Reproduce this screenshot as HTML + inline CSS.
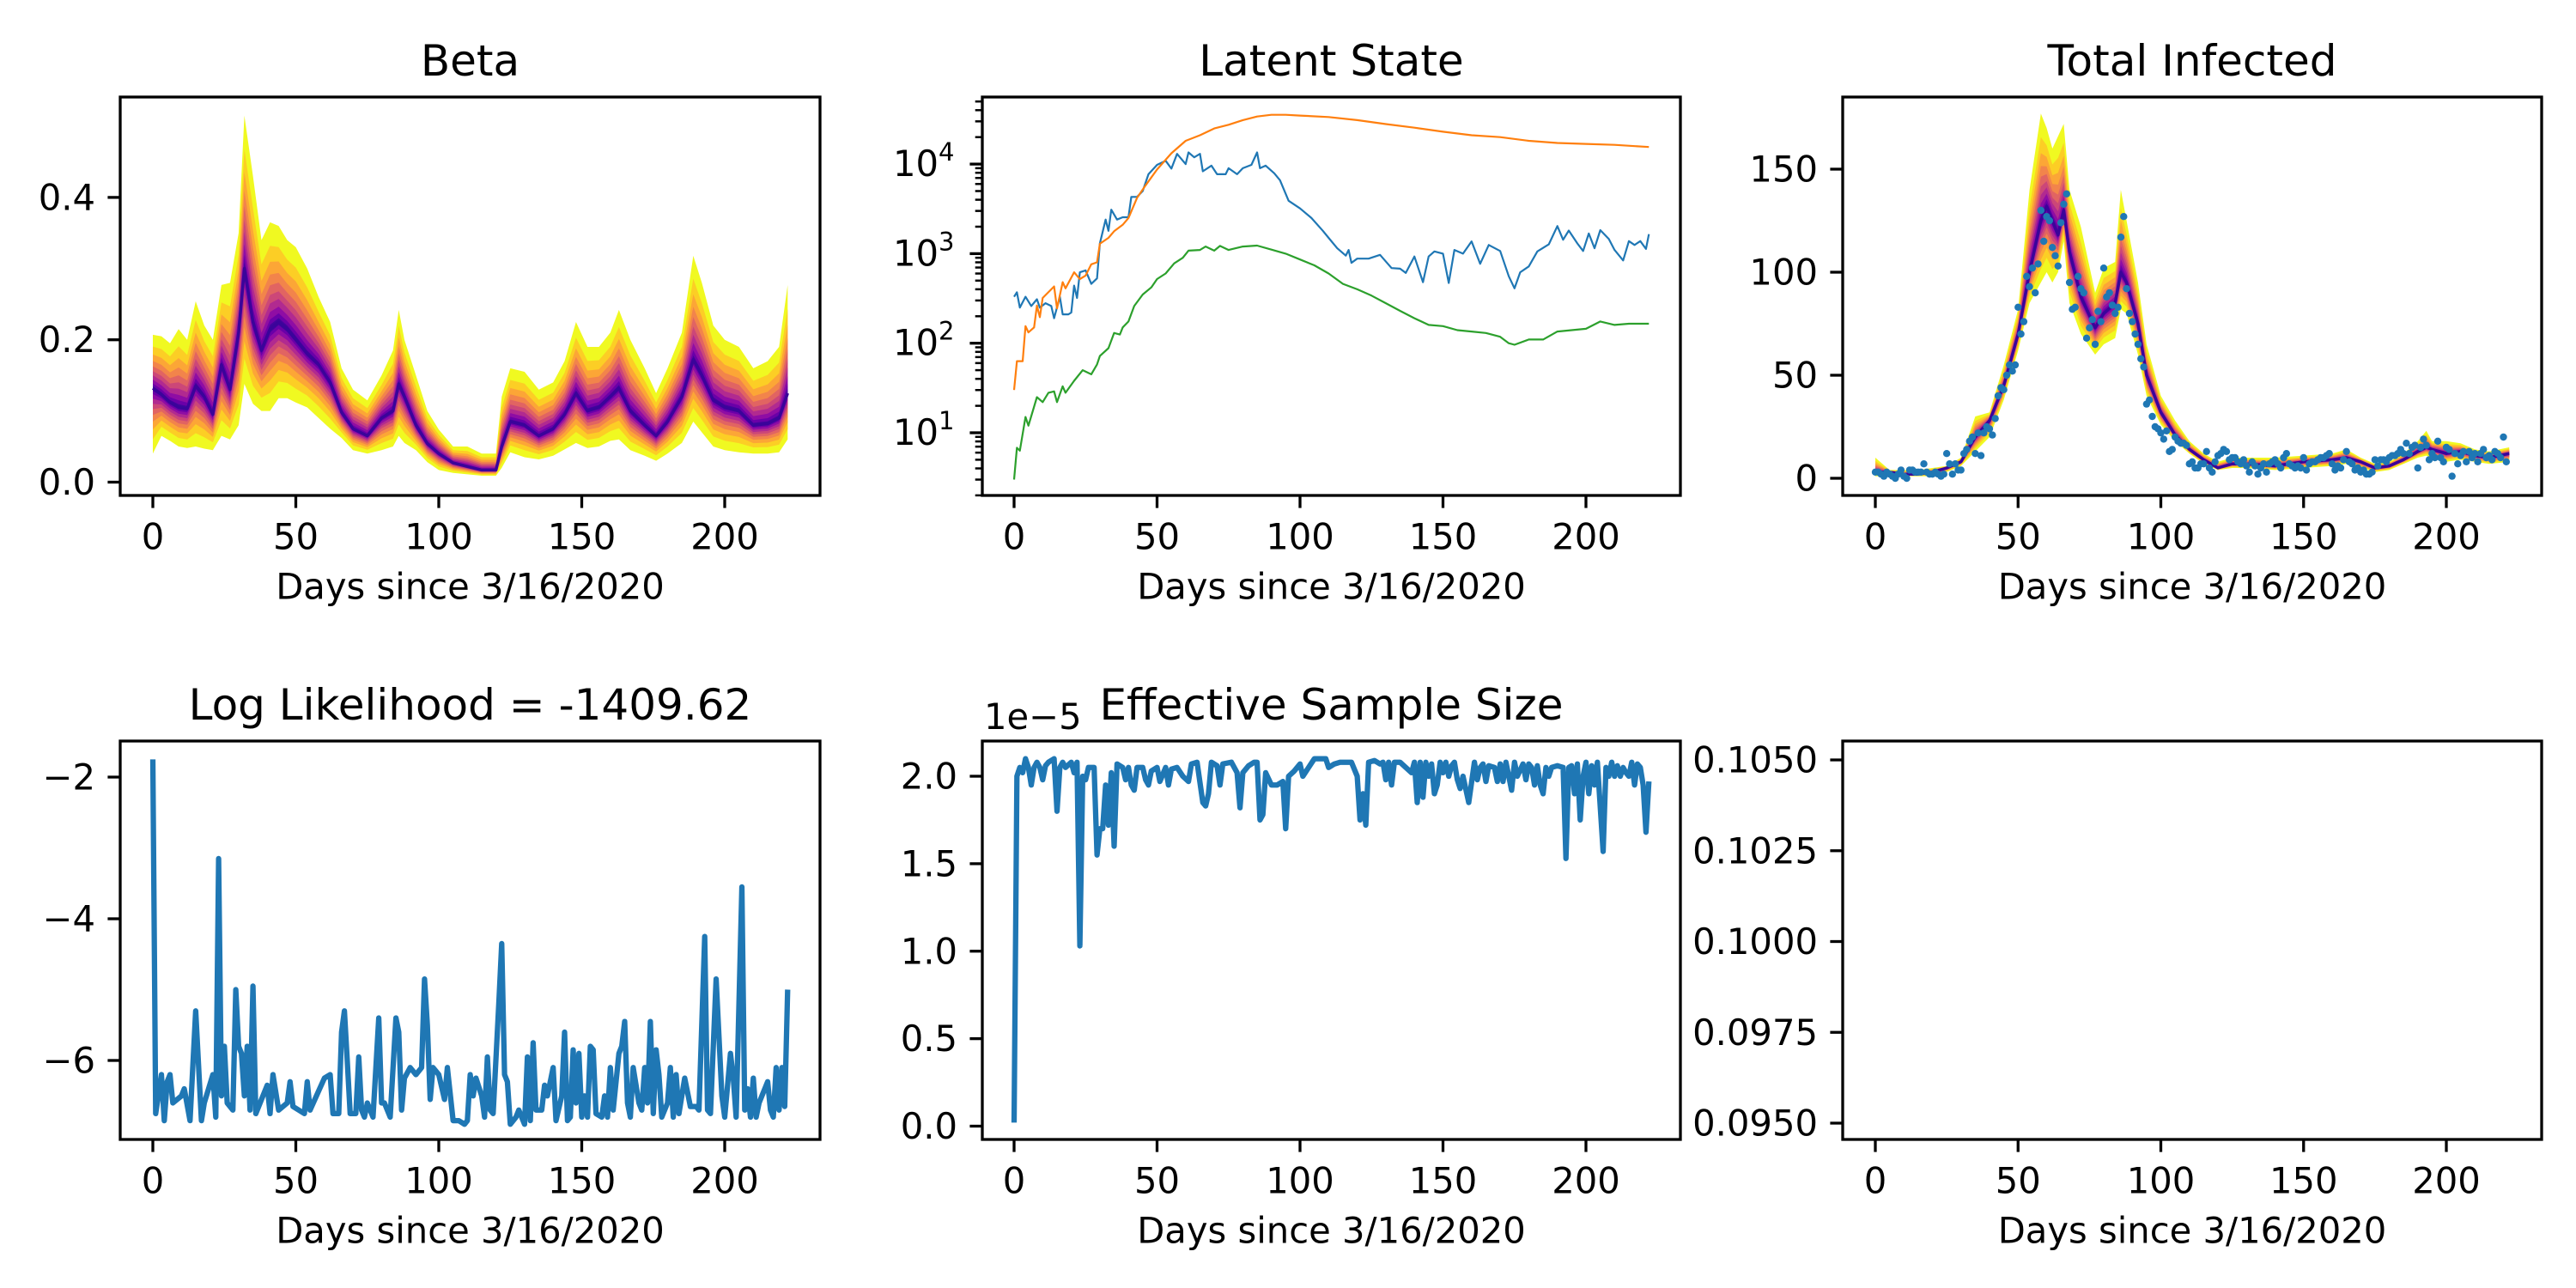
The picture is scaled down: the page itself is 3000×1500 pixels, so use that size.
<!DOCTYPE html>
<html><head><meta charset="utf-8"><style>
html,body{margin:0;padding:0;background:#fff}
svg{display:block}
text{font-family:"DejaVu Sans","Liberation Sans",sans-serif;fill:#000}
</style></head><body>
<svg id="fig" xmlns="http://www.w3.org/2000/svg" width="3000" height="1500" viewBox="0 0 3000 1500"></svg>
<script>
// ---------- DATA ----------
const betaDays=[0,3,6,9,12,15,18,21,24,27,30,32,35,38,41,44,47,50,54,58,62,66,70,75,80,84,86,88,92,96,100,105,110,115,120,122,125,130,135,140,144,148,152,156,160,163,167,172,176,180,185,189,192,196,200,205,210,215,219,222];
const betaMedian=[.132,.123,.112,.105,.103,.135,.12,.095,.165,.13,.21,.30,.225,.185,.215,.225,.215,.2,.18,.165,.14,.098,.075,.065,.09,.1,.138,.12,.08,.054,.04,.027,.022,.017,.017,.05,.085,.08,.065,.075,.095,.125,.1,.105,.12,.132,.1,.08,.065,.085,.12,.172,.15,.115,.105,.1,.08,.082,.09,.125];
const betaUpper=[.207,.205,.195,.215,.2,.254,.22,.2,.277,.28,.35,.515,.43,.34,.365,.36,.34,.33,.3,.26,.225,.16,.13,.115,.15,.185,.242,.2,.15,.1,.074,.05,.05,.04,.04,.12,.16,.155,.13,.14,.17,.225,.19,.19,.21,.242,.2,.16,.125,.16,.21,.318,.28,.22,.2,.19,.16,.17,.19,.277];
const betaLower=[.04,.065,.058,.05,.048,.05,.047,.045,.065,.06,.08,.138,.11,.1,.1,.118,.118,.112,.105,.09,.075,.062,.045,.04,.045,.05,.065,.055,.045,.028,.017,.013,.011,.009,.009,.02,.042,.035,.032,.037,.046,.055,.048,.05,.058,.06,.045,.037,.03,.04,.055,.085,.07,.05,.045,.042,.04,.04,.042,.06];
const betaTicks=[0,0.2,0.4];
const dayTicks=[0,50,100,150,200];

const latDays1=[0,1,3,4,5,7,8,9,10,14,15,17,18,21,23,25,27,29,30,33,35,38,40,43,46,50,55,60,65,70,75,80,85,90,95,100,110,120,130,140,150,160,170,180,190,200,210,222];
const latOrange=[30,63,63,155,132,150,263,195,320,430,245,480,410,620,520,570,760,800,1290,1500,1780,2100,2500,4200,5800,8700,13200,18200,21000,25000,27500,31000,34000,35500,35500,34800,33500,31000,28000,25500,23000,21000,20000,18200,17200,16800,16400,15500];
const latDays2=[0,1,2,4,6,8,9,11,13,14,16,17,19,20,21,22,23,25,27,29,30,32,33,34,36,38,40,41,43,45,47,50,53,55,57,60,61,63,65,66,69,71,74,75,78,80,83,85,86,88,91,93,96,100,104,108,110,113,116,117,118,120,124,128,132,135,137,140,143,145,147,150,152,154,157,160,163,166,170,173,175,177,180,183,187,190,192,194,197,199,201,203,205,208,210,213,215,217,219,221,222];
const latBlue=[330,370,250,330,260,310,250,280,260,190,330,210,210,220,440,320,620,650,460,530,1300,2400,1800,3100,2400,2550,2550,4300,4300,5000,7700,9800,10900,8900,13000,10000,13500,11900,13000,8300,9600,7700,7700,9000,7700,9000,9800,13500,9000,9600,7900,6600,3900,3200,2500,1800,1500,1150,950,1100,790,880,880,970,690,680,610,930,480,930,1060,1000,470,1100,1000,1370,770,1250,1070,560,410,620,720,1060,1270,2030,1430,1810,1300,1070,1680,1150,1830,1460,1100,840,1380,1250,1380,1130,1650];
const latDays3=[0,1,2,4,5,8,10,12,14,15,17,18,21,24,27,29,30,33,35,37,38,40,42,45,48,50,53,56,59,61,65,67,70,72,75,80,85,90,95,100,105,110,115,120,125,130,135,140,145,150,155,160,165,170,173,175,180,185,190,195,200,205,210,215,222];
const latGreen=[3,6.8,6.3,15,12,25,22,28,29,22,33,28,38,50,45,58,72,88,130,125,150,175,260,350,420,520,600,780,900,1080,1100,1200,1080,1220,1100,1200,1230,1110,1000,860,740,600,460,400,340,280,230,190,160,155,140,135,130,118,100,96,110,110,135,140,145,175,160,165,165];
const latTicks=[10,100,1000,10000];
const latTickLbl=["1","2","3","4"];

const infDays=[0,5,10,15,20,25,30,35,40,45,50,54,58,60,62,64,66,68,72,77,80,84,86,88,92,95,100,105,110,115,120,125,130,140,150,160,165,170,175,180,185,190,193,195,200,205,210,215,222];
const infMedian=[3,3,2,2,3,5,8,20,28,45,70,100,125,132,125,118,130,110,88,73,80,85,100,95,75,50,32,21,14,9,5,7,7,6,8,9,10,8,5,6,9,13,15,14,12,13,11,10,12];
const infUpper=[10,4,4,4,5,6,10,30,32,55,82,140,177,170,160,166,172,140,122,90,102,105,140,125,95,65,40,28,18,12,8,10,10,10,11,12,14,10,7,8,12,18,23,18,18,17,14,13,15];
const infLower=[1,1,1,1,1,3,6,13,20,38,62,85,95,100,95,100,115,85,70,60,65,68,82,80,60,40,26,18,12,7,4,5,5,4,5,6,7,5,3,4,7,10,11,10,8,9,8,7,8];
const infObserved=[3,3,2,1,3,2,1,0,2,4,1,0,4,4,3,3,3,7,3,2,2,3,2,1,2,12,7,2,7,4,4,12,14,18,20,12,22,11,22,25,24,21,29,40,44,43,50,55,52,55,83,70,76,98,93,102,90,104,130,115,127,125,112,108,103,124,133,138,95,82,83,98,92,90,68,73,77,65,81,76,102,88,90,84,80,83,117,127,92,80,76,70,65,58,54,36,38,30,25,24,22,19,23,13,14,20,18,17,17,16,7,8,5,5,7,7,13,5,3,8,11,12,14,13,9,10,10,8,7,9,6,3,8,6,2,5,7,3,7,8,9,7,5,10,12,7,6,5,6,5,10,4,7,8,8,9,10,10,11,12,7,4,6,5,9,13,8,7,4,5,3,4,2,2,3,9,6,9,9,8,10,11,11,12,14,12,17,12,15,16,5,15,19,16,9,12,10,18,10,8,15,14,1,12,7,11,13,8,13,10,12,8,12,14,10,11,9,13,12,10,20,8];
const infTicks=[0,50,100,150];

const llDays=[0,1,3,4,5,6,7,10,11,13,15,17,18,21,22,23,24,25,26,28,29,30,31,32,33,34,35,36,40,41,42,44,47,48,49,53,54,55,60,62,63,65,66,67,68,69,71,72,73,74,75,77,79,80,81,83,85,86,87,88,90,92,94,95,96,97,98,100,102,103,105,107,109,110,111,112,113,115,116,117,118,119,121,122,123,124,125,127,128,130,131,132,133,134,136,137,138,140,141,143,144,145,146,147,148,149,150,151,152,153,154,155,157,158,159,160,161,163,164,165,166,167,168,170,171,172,173,174,175,176,177,178,180,181,182,183,184,186,188,190,191,193,194,195,197,199,200,202,203,204,206,207,208,209,210,211,212,213,215,216,217,218,219,220,221,222];
const llVals=[-1.75,-6.75,-6.2,-6.85,-6.3,-6.2,-6.6,-6.5,-6.4,-6.85,-5.3,-6.85,-6.6,-6.2,-6.8,-3.15,-6.5,-5.8,-6.6,-6.7,-5.0,-5.8,-5.9,-6.5,-5.8,-6.7,-4.95,-6.75,-6.35,-6.75,-6.2,-6.7,-6.6,-6.3,-6.65,-6.75,-6.3,-6.7,-6.25,-6.2,-6.75,-6.75,-5.6,-5.3,-6.0,-6.75,-6.75,-5.95,-6.7,-6.8,-6.6,-6.8,-5.4,-6.6,-6.6,-6.8,-5.4,-5.6,-6.7,-6.25,-6.1,-6.2,-6.1,-4.85,-5.5,-6.55,-6.1,-6.2,-6.55,-6.1,-6.85,-6.85,-6.9,-6.85,-6.2,-6.5,-6.25,-6.5,-6.8,-5.95,-6.7,-6.75,-5.2,-4.35,-6.2,-6.3,-6.9,-6.8,-6.7,-6.9,-5.95,-6.85,-5.75,-6.7,-6.7,-6.35,-6.5,-6.1,-6.85,-6.5,-5.6,-6.85,-6.8,-5.85,-6.6,-5.9,-6.8,-6.5,-6.8,-5.8,-5.85,-6.75,-6.8,-6.5,-6.8,-6.1,-6.7,-5.9,-5.8,-5.45,-6.6,-6.8,-6.1,-6.6,-6.7,-6.1,-6.6,-5.45,-6.75,-5.85,-6.2,-6.8,-6.6,-6.1,-6.8,-6.2,-6.75,-6.25,-6.65,-6.65,-6.7,-4.25,-6.7,-6.75,-4.85,-6.5,-6.8,-5.9,-6.25,-6.8,-3.55,-6.7,-6.4,-6.8,-6.25,-6.8,-6.6,-6.5,-6.3,-6.7,-6.8,-6.1,-6.7,-6.1,-6.65,-5.0,-6.15];
const llTicks=[-6,-4,-2];

const essDays=[0,1,2,3,4,5,6,7,8,9,10,11,12,14,15,16,17,18,20,21,22,23,24,25,26,28,29,30,31,32,33,34,35,36,38,39,40,41,42,43,45,46,47,48,50,51,53,54,55,57,59,61,62,64,66,67,68,69,71,72,73,76,78,79,80,82,84,85,86,87,88,90,92,94,95,96,98,100,101,103,105,107,109,110,112,114,116,118,120,121,122,123,124,126,128,129,130,131,132,133,135,137,139,140,141,142,143,144,145,146,147,148,149,150,151,152,153,154,155,156,157,159,161,162,163,164,165,166,168,169,170,171,172,174,175,176,178,179,180,181,182,183,184,185,186,187,188,190,192,193,194,195,196,197,198,199,200,201,202,203,204,206,207,208,209,210,211,212,213,214,215,216,217,218,219,220,221,222];
const essVals=[0.02,2.0,2.05,2.02,2.1,2.05,1.95,2.05,2.08,2.05,1.98,2.06,2.08,2.1,1.8,2.05,2.08,2.05,2.08,2.02,2.08,1.03,2.0,1.98,2.05,2.05,1.55,1.7,1.7,1.95,1.72,2.02,1.6,2.07,2.05,1.98,2.05,1.95,1.92,2.05,2.05,1.98,1.95,2.03,2.05,1.97,2.05,1.95,2.04,2.05,2.0,1.97,2.07,2.08,1.85,1.83,1.9,2.08,2.06,1.95,2.07,2.08,2.02,1.82,2.02,2.06,2.08,2.08,1.75,1.78,2.02,1.95,1.95,1.97,1.7,2.0,2.03,2.07,2.0,2.05,2.1,2.1,2.1,2.05,2.07,2.08,2.08,2.08,2.0,1.75,1.9,1.72,2.08,2.09,2.07,2.08,1.98,2.08,1.95,2.08,2.08,2.05,2.02,2.08,1.85,2.08,1.88,2.08,2.0,2.07,1.9,1.95,2.08,2.02,2.08,2.0,2.06,2.08,1.98,1.93,2.0,1.85,2.08,1.98,2.05,2.07,1.97,2.06,2.05,1.97,2.07,1.97,2.08,1.92,2.08,2.0,2.07,1.98,2.07,2.05,1.95,2.06,1.95,1.9,2.05,2.0,2.05,2.06,2.05,1.53,2.05,2.06,1.9,2.07,1.75,2.0,2.08,1.9,2.06,1.95,2.08,1.57,2.05,2.0,2.08,2.0,2.06,2.0,2.05,2.02,2.0,2.08,1.95,2.07,2.05,1.95,1.68,1.97];
const essTicks=[0,0.5,1.0,1.5,2.0];
const emptyTicks=[0.0950,0.0975,0.1000,0.1025,0.1050];

// ---------- DRAWING ----------
const NS="http://www.w3.org/2000/svg";
const fig=document.getElementById('fig');
function el(tag,attrs,parent){const e=document.createElementNS(NS,tag);for(const k in attrs)e.setAttribute(k,attrs[k]);(parent||fig).appendChild(e);return e;}
const plasma=["#f0f921","#fcce25","#fca636","#f2844b","#e16462","#cc4778","#b12a90","#8f0da4","#6a00a8","#41049d"];
const bandFrac=[1,0.78,0.63,0.51,0.41,0.32,0.24,0.16,0.09,0.04];
const BLUE="#1f77b4",ORANGE="#ff7f0e",GREEN="#2ca02c";
let clipId=0;

function axes(name,L,T,W,H,title){
  const g=el('g',{});
  
  
  const cid='clip'+(clipId++);
  const cp=el('clipPath',{id:cid},g);el('rect',{x:L,y:T,width:W,height:H},cp);
  const plot=el('g',{'clip-path':'url(#'+cid+')'},g);
  
  
  if(title){const t=el('text',{x:L+W/2,y:T-25,'font-size':50,'text-anchor':'middle'},g);t.textContent=title;
    }
  return {g,plot,L,T,W,H};
}
function frame(a){const r=el('rect',{x:a.L,y:a.T,width:a.W,height:a.H,fill:'none',stroke:'#000','stroke-width':3.3},a.g);
  }
function xTicks(a,sx,ticks){
  const B=a.T+a.H;
  ticks.forEach(v=>{const x=sx(v);
    const l=el('line',{x1:x,x2:x,y1:B,y2:B+14.6,stroke:'#000','stroke-width':3.3},a.g);
    
    const t=el('text',{x:x,y:B+48,'font-size':41.7,'text-anchor':'middle','dominant-baseline':'central'},a.g);t.textContent=v;
    });
  const xl=el('text',{x:a.L+a.W/2,y:B+106,'font-size':41.7,'text-anchor':'middle','dominant-baseline':'central'},a.g);
  xl.textContent='Days since 3/16/2020';
  
}
function yTicks(a,sy,ticks,fmt){
  ticks.forEach(v=>{const y=sy(v);
    const l=el('line',{x1:a.L-14.6,x2:a.L,y1:y,y2:y,stroke:'#000','stroke-width':3.3},a.g);
    
    const t=el('text',{x:a.L-29,y:y,'font-size':41.7,'text-anchor':'end','dominant-baseline':'central'},a.g);t.textContent=fmt(v);
    });
}
function path(xs,ys,sx,sy){return xs.map((d,i)=>(i?'L':'M')+sx(d).toFixed(1)+' '+sy(ys[i]).toFixed(1)).join(' ');}
function fan(a,days,lo,med,hi,sx,sy,name){
  const N=plasma.length;
  for(let k=0;k<N;k++){const f=bandFrac[k];
    const up=days.map((d,i)=>med[i]+(hi[i]-med[i])*f);
    const dn=days.map((d,i)=>med[i]-(med[i]-lo[i])*f);
    let dstr=path(days,up,sx,sy);
    for(let i=days.length-1;i>=0;i--)dstr+=' L'+sx(days[i]).toFixed(1)+' '+sy(dn[i]).toFixed(1);
    const p=el('path',{d:dstr+' Z',fill:plasma[k],stroke:'none'},a.plot);
    }
  const m=el('path',{d:path(days,med,sx,sy),fill:'none',stroke:'#3a049a','stroke-width':3.5,'stroke-linejoin':'round'},a.plot);
  
}
function line(a,xs,ys,sx,sy,color,w,name){
  const p=el('path',{d:path(xs,ys,sx,sy),fill:'none',stroke:color,'stroke-width':w,'stroke-linejoin':'round'},a.plot);
  
}

// Beta
{const a=axes('beta-panel',140,113,815,464,'Beta');
 const sx=d=>178+d*3.33, sy=v=>561.5-v*829;
 fan(a,betaDays,betaLower,betaMedian,betaUpper,sx,sy,'beta');
 frame(a);xTicks(a,sx,dayTicks);yTicks(a,sy,betaTicks,v=>v.toFixed(1));}

// Latent
{const a=axes('latent-state-panel',1144,113,813,464,'Latent State');
 const sx=d=>1181+d*3.33, sy=v=>504-104.3*(Math.log10(v)-1);
 line(a,latDays2,latBlue,sx,sy,BLUE,2.2,'latent-blue-line');
 line(a,latDays1,latOrange,sx,sy,ORANGE,2.2,'latent-orange-line');
 line(a,latDays3,latGreen,sx,sy,GREEN,2.2,'latent-green-line');
 frame(a);xTicks(a,sx,dayTicks);
 for(let dec=1;dec<=10000;dec*=10)for(let m=2;m<=9;m++){const v=dec*m,y=sy(v);if(y<a.T||y>a.T+a.H)continue;
   const l=el('line',{x1:a.L-8.3,x2:a.L,y1:y,y2:y,stroke:'#000','stroke-width':2.5},a.g);
   }
 latTicks.forEach((v,i)=>{const y=sy(v);
   const l=el('line',{x1:a.L-14.6,x2:a.L,y1:y,y2:y,stroke:'#000','stroke-width':3.3},a.g);
   
   const t=el('text',{x:a.L-104,y:y+14,'font-size':41.7,'text-anchor':'start'},a.g);
   
   t.appendChild(document.createTextNode('10'));
   const s=el('tspan',{dy:-18,'font-size':29},t);s.textContent=latTickLbl[i];});}

// Total Infected
{const a=axes('total-infected-panel',2146,113,814,464,'Total Infected');
 const sx=d=>2184+d*3.325, sy=v=>557-v*2.4;
 fan(a,infDays,infLower,infMedian,infUpper,sx,sy,'infected');
 infObserved.forEach((v,i)=>{const c=el('circle',{cx:sx(i),cy:sy(v),r:4.2,fill:BLUE},a.plot);
   });
 frame(a);xTicks(a,sx,dayTicks);yTicks(a,sy,infTicks,v=>String(v));}

// Log likelihood
{const a=axes('log-likelihood-panel',140,863,815,464,'Log Likelihood = -1409.62');
 const sx=d=>178+d*3.33, sy=v=>905+(-2-v)*82.5;
 line(a,llDays,llVals,sx,sy,BLUE,6.25,'log-likelihood-line');
 frame(a);xTicks(a,sx,dayTicks);yTicks(a,sy,llTicks,v=>'\u2212'+Math.abs(v));}

// ESS
{const a=axes('effective-sample-size-panel',1144,863,813,464,'Effective Sample Size');
 const sx=d=>1181+d*3.33, sy=v=>1311.5-v*203.75;
 line(a,essDays,essVals,sx,sy,BLUE,6.25,'ess-line');
 frame(a);xTicks(a,sx,dayTicks);yTicks(a,sy,essTicks,v=>v.toFixed(1));
 const o=el('text',{x:1146,y:849,'font-size':41.7},a.g);o.textContent='1e\u22125';
 }

// Empty
{const a=axes('empty-panel',2146,863,814,464,'');
 const sx=d=>2184+d*3.325, sy=v=>1308-(v-0.095)*42300;
 frame(a);xTicks(a,sx,dayTicks);yTicks(a,sy,emptyTicks,v=>v.toFixed(4));}
</script>
</body></html>
